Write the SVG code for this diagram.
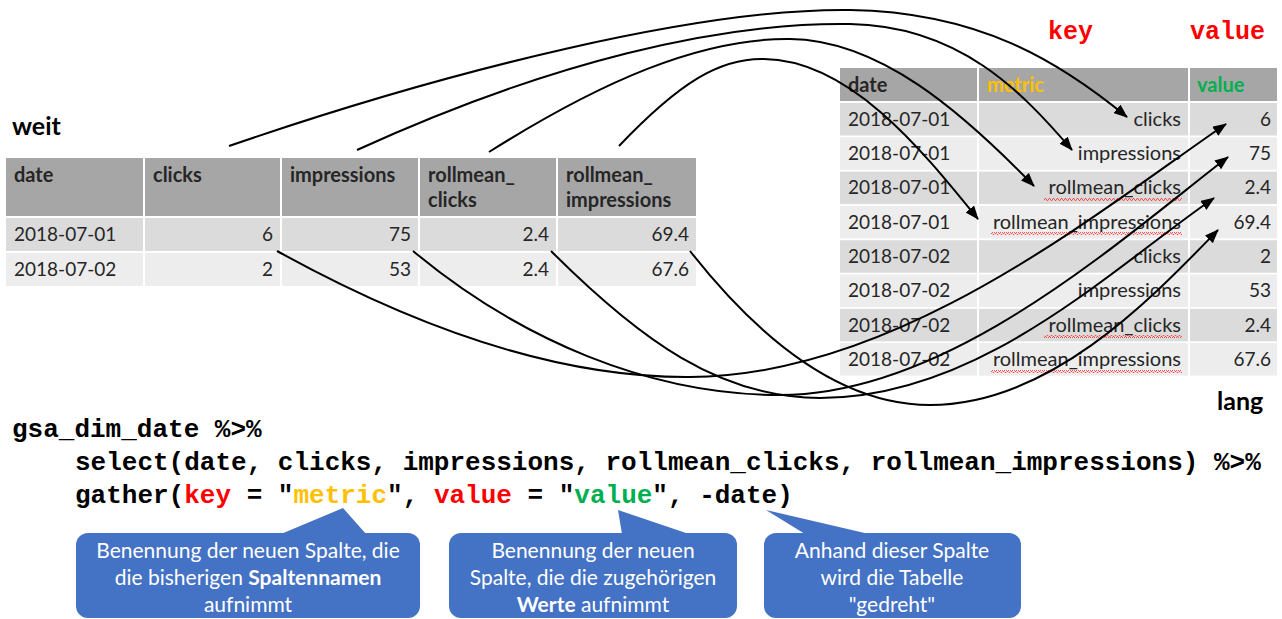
<svg xmlns="http://www.w3.org/2000/svg" width="1282" height="619" viewBox="0 0 1282 619">
<defs>
<marker id="ah" viewBox="0 0 14 11" refX="13" refY="5.5" markerWidth="14" markerHeight="11" markerUnits="userSpaceOnUse" orient="auto"><path d="M0,0 L14,5.5 L0,11 z" fill="#000"/></marker>
<pattern id="wave" width="4" height="3" patternUnits="userSpaceOnUse"><path d="M0,2.5 L1,0.5 L2,0.5 L3,2.5 L4,2.5" fill="none" stroke="#ff3030" stroke-width="0.8"/></pattern>
<style>
.hd{fill:#a6a6a6}
.dk{fill:#dbdbdb}
.lt{fill:#ededed}
.t{font-family:Lato,"Open Sans",sans-serif;font-size:19px;fill:#262626}
.w{font-size:20px}
.b{font-weight:bold}
.r{text-anchor:end}
.m{font-family:"Liberation Mono","DejaVu Sans Mono",monospace;font-weight:bold;font-size:26px;fill:#000}
.lab{font-family:Lato,"Open Sans",sans-serif;font-weight:bold;font-size:25px;fill:#000}
.kv{font-family:"Liberation Mono","DejaVu Sans Mono",monospace;font-weight:bold;font-size:25px;fill:#ff0000}
.co{fill:#4472c4}
.ct{font-family:Lato,"Open Sans",sans-serif;font-size:21px;fill:#fff;text-anchor:middle}
.cn{fill:none;stroke:#000;stroke-width:2}
.sq{fill:url(#wave)}
</style>
</defs>
<rect width="1282" height="619" fill="#fff"/>

<g id="label-weit"><text class="lab" x="12" y="135">weit</text></g>
<g id="label-lang"><text class="lab" x="1217" y="410">lang</text></g>
<g id="label-key"><text class="kv" x="1048" y="39">key</text></g>
<g id="label-value"><text class="kv" x="1190" y="39">value</text></g>

<g id="table-weit">
<rect class="hd" x="6" y="158" width="137" height="58"/>
<rect class="hd" x="145" y="158" width="135" height="58"/>
<rect class="hd" x="282" y="158" width="136" height="58"/>
<rect class="hd" x="420" y="158" width="136" height="58"/>
<rect class="hd" x="558" y="158" width="138" height="58"/>
<rect class="dk" x="6" y="218" width="137" height="33"/>
<rect class="dk" x="145" y="218" width="135" height="33"/>
<rect class="dk" x="282" y="218" width="136" height="33"/>
<rect class="dk" x="420" y="218" width="136" height="33"/>
<rect class="dk" x="558" y="218" width="138" height="33"/>
<rect class="lt" x="6" y="253" width="137" height="33"/>
<rect class="lt" x="145" y="253" width="135" height="33"/>
<rect class="lt" x="282" y="253" width="136" height="33"/>
<rect class="lt" x="420" y="253" width="136" height="33"/>
<rect class="lt" x="558" y="253" width="138" height="33"/>
<text class="t w b" x="14" y="182">date</text>
<text class="t w b" x="153" y="182">clicks</text>
<text class="t w b" x="290" y="182">impressions</text>
<text class="t w b" x="428" y="182">rollmean_</text>
<text class="t w b" x="428" y="207">clicks</text>
<text class="t w b" x="566" y="182">rollmean_</text>
<text class="t w b" x="566" y="207">impressions</text>
<text class="t" x="14" y="241">2018-07-01</text>
<text class="t r" x="273" y="241">6</text>
<text class="t r" x="411" y="241">75</text>
<text class="t r" x="549" y="241">2.4</text>
<text class="t r" x="689" y="241">69.4</text>
<text class="t" x="14" y="276">2018-07-02</text>
<text class="t r" x="273" y="276">2</text>
<text class="t r" x="411" y="276">53</text>
<text class="t r" x="549" y="276">2.4</text>
<text class="t r" x="689" y="276">67.6</text>
</g>

<g id="table-lang">
<rect class="hd" x="840" y="68" width="137" height="33"/>
<rect class="hd" x="979" y="68" width="209" height="33"/>
<rect class="hd" x="1190" y="68" width="87" height="33"/>
<g>
<rect class="dk" x="840" y="103" width="137" height="32.5"/><rect class="dk" x="979" y="103" width="209" height="32.5"/><rect class="dk" x="1190" y="103" width="87" height="32.5"/>
<rect class="lt" x="840" y="137.3" width="137" height="32.5"/><rect class="lt" x="979" y="137.3" width="209" height="32.5"/><rect class="lt" x="1190" y="137.3" width="87" height="32.5"/>
<rect class="dk" x="840" y="171.6" width="137" height="32.5"/><rect class="dk" x="979" y="171.6" width="209" height="32.5"/><rect class="dk" x="1190" y="171.6" width="87" height="32.5"/>
<rect class="lt" x="840" y="205.9" width="137" height="32.5"/><rect class="lt" x="979" y="205.9" width="209" height="32.5"/><rect class="lt" x="1190" y="205.9" width="87" height="32.5"/>
<rect class="dk" x="840" y="240.2" width="137" height="32.5"/><rect class="dk" x="979" y="240.2" width="209" height="32.5"/><rect class="dk" x="1190" y="240.2" width="87" height="32.5"/>
<rect class="lt" x="840" y="274.5" width="137" height="32.5"/><rect class="lt" x="979" y="274.5" width="209" height="32.5"/><rect class="lt" x="1190" y="274.5" width="87" height="32.5"/>
<rect class="dk" x="840" y="308.8" width="137" height="32.5"/><rect class="dk" x="979" y="308.8" width="209" height="32.5"/><rect class="dk" x="1190" y="308.8" width="87" height="32.5"/>
<rect class="lt" x="840" y="343.1" width="137" height="32.5"/><rect class="lt" x="979" y="343.1" width="209" height="32.5"/><rect class="lt" x="1190" y="343.1" width="87" height="32.5"/>
</g>
<text class="t w b" x="848" y="92">date</text>
<text class="t w b" x="987" y="92" style="fill:#ffc000">metric</text>
<text class="t w b" x="1197" y="92" style="fill:#00b050">value</text>
<text class="t" x="848" y="126">2018-07-01</text>
<text class="t" x="848" y="160">2018-07-01</text>
<text class="t" x="848" y="194">2018-07-01</text>
<text class="t" x="848" y="229">2018-07-01</text>
<text class="t" x="848" y="263">2018-07-02</text>
<text class="t" x="848" y="297">2018-07-02</text>
<text class="t" x="848" y="332">2018-07-02</text>
<text class="t" x="848" y="366">2018-07-02</text>
<rect class="sq" x="1044" y="198" width="138" height="3"/>
<rect class="sq" x="991" y="232" width="191" height="3"/>
<rect class="sq" x="1044" y="335" width="138" height="3"/>
<rect class="sq" x="991" y="370" width="191" height="3"/>
<text class="t w r" x="1181" y="126">clicks</text>
<text class="t w r" x="1181" y="160">impressions</text>
<text class="t w r" x="1181" y="194">rollmean_clicks</text>
<text class="t w r" x="1181" y="229">rollmean_impressions</text>
<text class="t w r" x="1181" y="263">clicks</text>
<text class="t w r" x="1181" y="297">impressions</text>
<text class="t w r" x="1181" y="332">rollmean_clicks</text>
<text class="t w r" x="1181" y="366">rollmean_impressions</text>
<text class="t r" x="1271" y="126">6</text>
<text class="t r" x="1271" y="160">75</text>
<text class="t r" x="1271" y="194">2.4</text>
<text class="t r" x="1271" y="229">69.4</text>
<text class="t r" x="1271" y="263">2</text>
<text class="t r" x="1271" y="297">53</text>
<text class="t r" x="1271" y="332">2.4</text>
<text class="t r" x="1271" y="366">67.6</text>
</g>

<g id="connectors">
<path class="cn" marker-end="url(#ah)" d="M229,146 C450,70 700,8 850,10 C980,12 1060,62 1127,117"/>
<path class="cn" marker-end="url(#ah)" d="M357,150 C550,62 720,22 850,24 C960,26 1022,92 1072,150"/>
<path class="cn" marker-end="url(#ah)" d="M489,152 C600,82 700,38 790,39 C880,40 962,112 1034,186"/>
<path class="cn" marker-end="url(#ah)" d="M619,146 C680,82 720,58 764,59 C850,60 922,150 978,219"/>
<path class="cn" marker-end="url(#ah)" d="M277,251 C420,330 560,378 690,377 C900,376 1100,210 1226,124"/>
<path class="cn" marker-end="url(#ah)" d="M413,251 C520,340 650,395 780,395 C950,395 1120,240 1228,157"/>
<path class="cn" marker-end="url(#ah)" d="M551,251 C640,340 720,398 820,398 C980,398 1110,270 1214,198"/>
<path class="cn" marker-end="url(#ah)" d="M690,251 C760,340 840,405 930,405 C1050,405 1150,300 1218,230"/>
</g>

<g id="code">
<text class="m" x="12" y="437" xml:space="preserve">gsa_dim_date %&gt;%</text>
<text class="m" x="75" y="470" xml:space="preserve">select(date, clicks, impressions, rollmean_clicks, rollmean_impressions) %&gt;%</text>
<text class="m" x="75" y="503" xml:space="preserve">gather(<tspan fill="#ff0000">key</tspan> = "<tspan fill="#ffc000">metric</tspan>", <tspan fill="#ff0000">value</tspan> = "<tspan fill="#00b050">value</tspan>", -date)</text>
</g>

<g id="callout-key">
<rect class="co" x="76" y="533" width="344" height="85" rx="12"/>
<polygon class="co" points="281,534 343,508 366,534"/>
<text class="ct" x="248" y="558">Benennung der neuen Spalte, die</text>
<text class="ct" x="248" y="585">die bisherigen <tspan font-weight="bold">Spaltennamen</tspan></text>
<text class="ct" x="248" y="612">aufnimmt</text>
</g>
<g id="callout-value">
<rect class="co" x="449" y="533" width="288" height="85" rx="12"/>
<polygon class="co" points="622,534 618,510 689,534"/>
<text class="ct" x="593" y="558">Benennung der neuen</text>
<text class="ct" x="593" y="585">Spalte, die die zugehörigen</text>
<text class="ct" x="593" y="612"><tspan font-weight="bold">Werte</tspan> aufnimmt</text>
</g>
<g id="callout-date">
<rect class="co" x="764" y="533" width="257" height="85" rx="12"/>
<polygon class="co" points="805,534 766,510 869,534"/>
<text class="ct" x="892" y="558">Anhand dieser Spalte</text>
<text class="ct" x="892" y="585">wird die Tabelle</text>
<text class="ct" x="892" y="612">"gedreht"</text>
</g>
</svg>
